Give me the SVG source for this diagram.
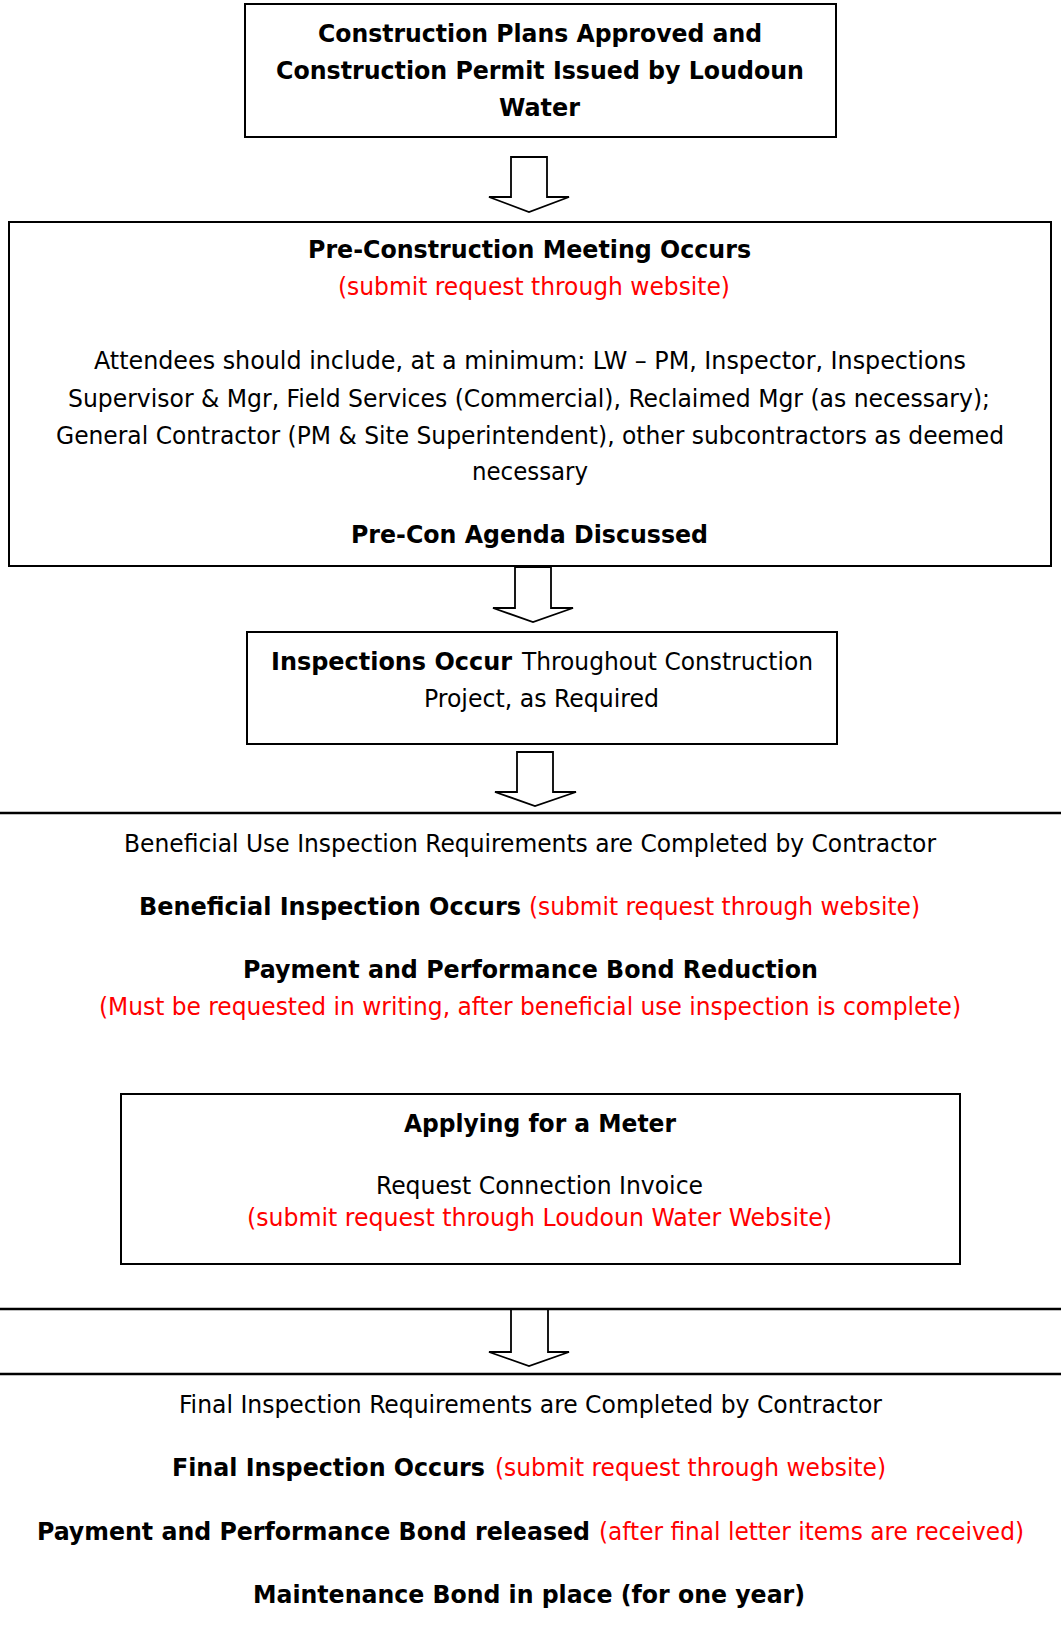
<svg xmlns="http://www.w3.org/2000/svg" width="1061" height="1649" viewBox="0 0 1061 1649">
<style>
text{font-family:"DejaVu Sans Condensed","DejaVu Sans",sans-serif;font-size:24px;fill:#000}
.b{font-weight:bold}
.r{fill:#ff0000}
.box{fill:#fff;stroke:#000;stroke-width:2}
.sep{stroke:#000;stroke-width:2.5}
.arr{fill:#fff;stroke:#000;stroke-width:1.8;stroke-linejoin:miter}
</style>
<rect width="1061" height="1649" fill="#fff"/>
<g id="connectors">
<polygon class="arr" points="511,157 547,157 547,197 569,197 529,212 489,197 511,197"/>
<polygon class="arr" points="515,567 551,567 551,608 573,608 533,622 493,608 515,608"/>
<polygon class="arr" points="517,752 553,752 553,792 576,792 535,806 495,792 517,792"/>
<polygon class="arr" points="511,1309 548,1309 548,1352 569,1352 529,1366 489,1352 511,1352"/>
<line class="sep" x1="0" y1="813" x2="1061" y2="813"/>
<line class="sep" x1="0" y1="1309" x2="1061" y2="1309"/>
<line class="sep" x1="0" y1="1374" x2="1061" y2="1374"/>
</g>
<g id="node-permit">
<rect class="box" x="245" y="4" width="591" height="133"/>
<text class="b" x="318" y="42" textLength="444" lengthAdjust="spacingAndGlyphs">Construction Plans Approved and</text>
<text class="b" x="276" y="79" textLength="528" lengthAdjust="spacingAndGlyphs">Construction Permit Issued by Loudoun</text>
<text class="b" x="499" y="116" textLength="81" lengthAdjust="spacingAndGlyphs">Water</text>
</g>
<g id="node-precon">
<rect class="box" x="9" y="222" width="1042" height="344"/>
<text class="b" x="308" y="258" textLength="443" lengthAdjust="spacingAndGlyphs">Pre-Construction Meeting Occurs</text>
<text class="r" x="338" y="295" textLength="392" lengthAdjust="spacingAndGlyphs">(submit request through website)</text>
<text x="94" y="369" textLength="872" lengthAdjust="spacingAndGlyphs">Attendees should include, at a minimum: LW – PM, Inspector, Inspections</text>
<text x="68" y="407" textLength="922" lengthAdjust="spacingAndGlyphs">Supervisor &amp; Mgr, Field Services (Commercial), Reclaimed Mgr (as necessary);</text>
<text x="56" y="444" textLength="948" lengthAdjust="spacingAndGlyphs">General Contractor (PM &amp; Site Superintendent), other subcontractors as deemed</text>
<text x="472" y="480" textLength="116" lengthAdjust="spacingAndGlyphs">necessary</text>
<text class="b" x="351" y="543" textLength="357" lengthAdjust="spacingAndGlyphs">Pre-Con Agenda Discussed</text>
</g>
<g id="node-inspections">
<rect class="box" x="247" y="632" width="590" height="112"/>
<text class="b" x="271" y="670" textLength="241" lengthAdjust="spacingAndGlyphs">Inspections Occur</text>
<text x="522" y="670" textLength="291" lengthAdjust="spacingAndGlyphs">Throughout Construction</text>
<text x="424" y="707" textLength="235" lengthAdjust="spacingAndGlyphs">Project, as Required</text>
</g>
<g id="node-beneficial">
<text x="124" y="852" textLength="812" lengthAdjust="spacingAndGlyphs">Beneficial Use Inspection Requirements are Completed by Contractor</text>
<text class="b" x="139" y="915" textLength="382" lengthAdjust="spacingAndGlyphs">Beneficial Inspection Occurs</text>
<text class="r" x="529" y="915" textLength="391" lengthAdjust="spacingAndGlyphs">(submit request through website)</text>
<text class="b" x="243" y="978" textLength="575" lengthAdjust="spacingAndGlyphs">Payment and Performance Bond Reduction</text>
<text class="r" x="99" y="1015" textLength="862" lengthAdjust="spacingAndGlyphs">(Must be requested in writing, after beneficial use inspection is complete)</text>
</g>
<g id="node-meter">
<rect class="box" x="121" y="1094" width="839" height="170"/>
<text class="b" x="404" y="1132" textLength="272" lengthAdjust="spacingAndGlyphs">Applying for a Meter</text>
<text x="376" y="1194" textLength="327" lengthAdjust="spacingAndGlyphs">Request Connection Invoice</text>
<text class="r" x="247" y="1226" textLength="585" lengthAdjust="spacingAndGlyphs">(submit request through Loudoun Water Website)</text>
</g>
<g id="node-final">
<text x="179" y="1413" textLength="703" lengthAdjust="spacingAndGlyphs">Final Inspection Requirements are Completed by Contractor</text>
<text class="b" x="172" y="1476" textLength="313" lengthAdjust="spacingAndGlyphs">Final Inspection Occurs</text>
<text class="r" x="495" y="1476" textLength="391" lengthAdjust="spacingAndGlyphs">(submit request through website)</text>
<text class="b" x="37" y="1540" textLength="553" lengthAdjust="spacingAndGlyphs">Payment and Performance Bond released</text>
<text class="r" x="599" y="1540" textLength="425" lengthAdjust="spacingAndGlyphs">(after final letter items are received)</text>
<text class="b" x="253" y="1603" textLength="552" lengthAdjust="spacingAndGlyphs">Maintenance Bond in place (for one year)</text>
</g>
</svg>
